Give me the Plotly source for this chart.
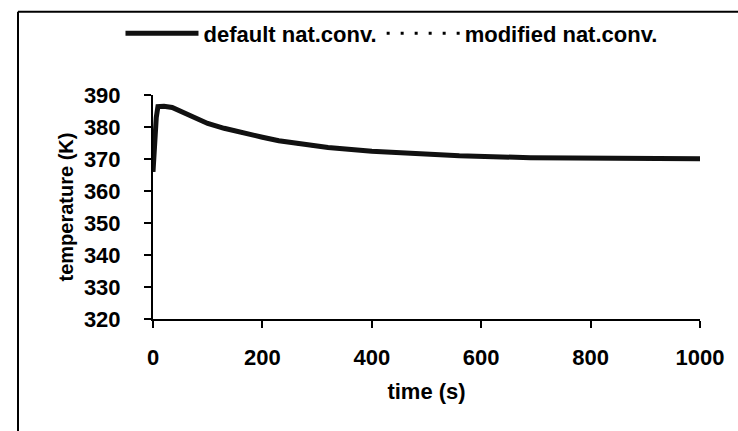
import plotly.graph_objects as go

time_s = [0, 3, 6, 9, 20, 35, 45, 55, 65, 80, 100, 130, 160, 200, 230, 270, 320, 400, 480, 560, 690, 800, 900, 1000]
temp_default = [366, 376, 383, 386.4, 386.5, 386.1, 385.3, 384.4, 383.6, 382.5, 381.1, 379.6, 378.3, 376.8, 375.7, 374.6, 373.6, 372.4, 371.6, 371.0, 370.4, 370.2, 370.1, 370.1]
temp_modified = [366, 376, 383, 386.4, 386.5, 386.1, 385.3, 384.4, 383.6, 382.5, 381.1, 379.6, 378.3, 376.8, 375.7, 374.6, 373.6, 372.4, 371.6, 371.0, 370.4, 370.2, 370.1, 370.1]

x_ticks = [0, 200, 400, 600, 800, 1000]
y_ticks = [320, 330, 340, 350, 360, 370, 380, 390]

FONT = "Liberation Sans"

fig = go.Figure()
fig.add_trace(go.Scatter(x=time_s, y=temp_modified, mode="lines", name="modified nat.conv.",
                         line=dict(color="black", width=3, dash="3px,11px")))
fig.add_trace(go.Scatter(x=time_s, y=temp_default, mode="lines", name="default nat.conv.",
                         line=dict(color="#111111", width=5)))

fig.update_layout(
    width=738, height=431,
    margin=dict(l=153, r=38, t=93, b=112),
    paper_bgcolor="white", plot_bgcolor="white",
    font=dict(family=FONT, size=22, color="black", weight="bold"),
    showlegend=True,
    legend=dict(orientation="h", x=0.436, xanchor="center", y=1.275, yanchor="middle",
                traceorder="reversed", font=dict(size=22, family=FONT, weight="bold"), itemwidth=73,
                bgcolor="rgba(0,0,0,0)"),
    xaxis=dict(range=[0, 1000], tickvals=x_ticks, ticks="outside", ticklen=7, tickwidth=2,
               tickcolor="black", showline=True, linecolor="black", linewidth=2,
               showgrid=False, zeroline=False, ticklabelstandoff=11,
               title=dict(text="time (s)", font=dict(size=22, weight="bold"), standoff=14)),
    yaxis=dict(range=[320, 390], tickvals=y_ticks, ticks="outside", ticklen=7, tickwidth=2,
               tickcolor="black", showline=True, linecolor="black", linewidth=2,
               showgrid=False, zeroline=False, ticklabelstandoff=19,
               title=dict(text="temperature (K)", font=dict(size=20, weight="bold"), standoff=5)),
    shapes=[
        dict(type="line", xref="paper", yref="paper", x0=-0.2468, x1=-0.2468, y0=1.372, y1=-0.5,
             line=dict(color="black", width=2)),
        dict(type="line", xref="paper", yref="paper", x0=-0.2468, x1=1.1, y0=1.372, y1=1.372,
             line=dict(color="black", width=2)),
    ],
)

fig.write_html("out.html")
